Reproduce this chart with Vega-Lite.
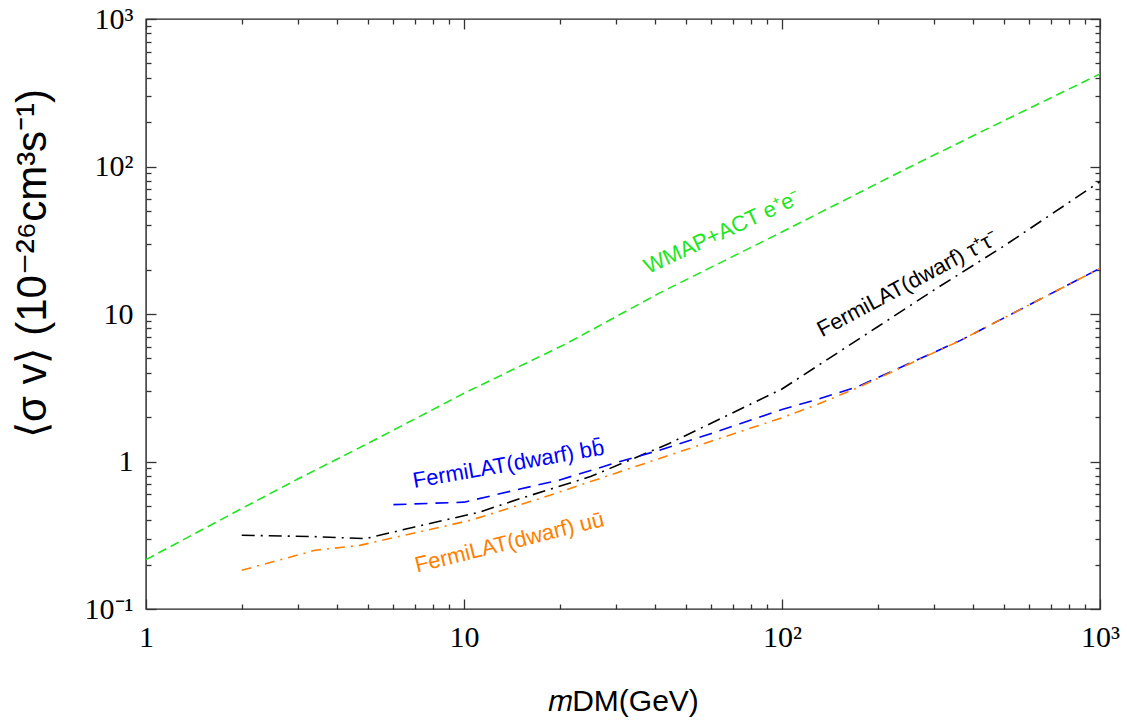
{
  "$schema": "https://vega.github.io/schema/vega-lite/v6.json",
  "width": 954,
  "height": 590,
  "autosize": {"type": "none"},
  "padding": {"left": 146, "top": 19, "right": 27, "bottom": 113},
  "background": "white",
  "config": {
    "view": {"stroke": "#222222", "strokeWidth": 1.4},
    "axis": {
      "grid": false,
      "domain": false,
      "ticks": true,
      "tickColor": "#333333",
      "tickWidth": 1.3,
      "labelFont": "Liberation Serif",
      "labelFontSize": 30,
      "labelColor": "black",
      "labelFlush": false,
      "labelOverlap": false,
      "labelBound": false,
      "titleFont": "Liberation Sans",
      "titleFontWeight": "normal",
      "titleColor": "black",
      "zindex": 1
    }
  },
  "datasets": {
    "curves": [
      {"series": "WMAP", "m": 1, "sv": 0.216},
      {"series": "WMAP", "m": 2, "sv": 0.48},
      {"series": "WMAP", "m": 3, "sv": 0.76},
      {"series": "WMAP", "m": 5, "sv": 1.33},
      {"series": "WMAP", "m": 10, "sv": 2.9},
      {"series": "WMAP", "m": 21, "sv": 6.3},
      {"series": "WMAP", "m": 41, "sv": 13.8},
      {"series": "WMAP", "m": 100, "sv": 36},
      {"series": "WMAP", "m": 247, "sv": 97},
      {"series": "WMAP", "m": 500, "sv": 205},
      {"series": "WMAP", "m": 1000, "sv": 424},
      {"series": "tau", "m": 2, "sv": 0.316},
      {"series": "tau", "m": 3.3, "sv": 0.31},
      {"series": "tau", "m": 4.9, "sv": 0.30},
      {"series": "tau", "m": 7, "sv": 0.36},
      {"series": "tau", "m": 11.2, "sv": 0.454},
      {"series": "tau", "m": 15, "sv": 0.56},
      {"series": "tau", "m": 25, "sv": 0.79},
      {"series": "tau", "m": 44, "sv": 1.32},
      {"series": "tau", "m": 100, "sv": 3.1},
      {"series": "tau", "m": 200, "sv": 8.2},
      {"series": "tau", "m": 300, "sv": 14.5},
      {"series": "tau", "m": 500, "sv": 29},
      {"series": "tau", "m": 1000, "sv": 79},
      {"series": "bb", "m": 6, "sv": 0.51},
      {"series": "bb", "m": 10, "sv": 0.53},
      {"series": "bb", "m": 15, "sv": 0.65},
      {"series": "bb", "m": 20, "sv": 0.75},
      {"series": "bb", "m": 30, "sv": 0.98},
      {"series": "bb", "m": 41, "sv": 1.19},
      {"series": "bb", "m": 60, "sv": 1.55},
      {"series": "bb", "m": 100, "sv": 2.25},
      {"series": "bb", "m": 130, "sv": 2.65},
      {"series": "bb", "m": 172, "sv": 3.2},
      {"series": "bb", "m": 363, "sv": 6.6},
      {"series": "bb", "m": 1000, "sv": 20.4},
      {"series": "uu", "m": 2, "sv": 0.183},
      {"series": "uu", "m": 3.4, "sv": 0.25},
      {"series": "uu", "m": 4.7, "sv": 0.27},
      {"series": "uu", "m": 10.5, "sv": 0.40},
      {"series": "uu", "m": 17.3, "sv": 0.56},
      {"series": "uu", "m": 52.6, "sv": 1.25},
      {"series": "uu", "m": 100, "sv": 1.98},
      {"series": "uu", "m": 130, "sv": 2.45},
      {"series": "uu", "m": 172, "sv": 3.15},
      {"series": "uu", "m": 363, "sv": 6.6},
      {"series": "uu", "m": 1000, "sv": 20.4}
    ],
    "labels": [
      {"series": "WMAP", "label": "WMAP+ACT e⁺e⁻", "m": 64.8, "sv": 35.9},
      {"series": "tau", "label": "FermiLAT(dwarf) τ⁺τ⁻", "m": 248, "sv": 16.0},
      {"series": "bb", "label": "FermiLAT(dwarf) bb̄", "m": 13.8, "sv": 0.957},
      {"series": "uu", "label": "FermiLAT(dwarf) uū", "m": 13.9, "sv": 0.283}
    ]
  },
  "layer": [
    {
      "data": {"name": "curves"},
      "mark": {"type": "line", "strokeWidth": 1.6, "clip": true},
      "encoding": {
        "x": {
          "field": "m", "type": "quantitative",
          "scale": {"type": "log", "domain": [1, 1000], "nice": false},
          "axis": {
            "orient": "bottom",
            "offset": -10,
            "values": [1, 10, 100, 1000],
            "labelExpr": "datum.value == 1 ? '1' : datum.value == 10 ? '10' : datum.value == 100 ? '10²' : '10³'",
            "tickSize": 10,
            "labelPadding": 13,
            "title": "𝑚DM(GeV)",
            "titleFontSize": 30,
            "titlePadding": 34
          }
        },
        "y": {
          "field": "sv", "type": "quantitative",
          "scale": {"type": "log", "domain": [0.1, 1000], "nice": false},
          "axis": {
            "orient": "left",
            "offset": -10,
            "values": [0.1, 1, 10, 100, 1000],
            "labelExpr": "datum.value == 0.1 ? '10⁻¹' : datum.value == 1 ? '1' : datum.value == 10 ? '10' : datum.value == 100 ? '10²' : '10³'",
            "tickSize": 10,
            "labelPadding": 13,
            "title": "⟨σ v⟩ (10⁻²⁶cm³s⁻¹)",
            "titleFontSize": 42,
            "titlePadding": 30,
            "titleY": 244
          }
        },
        "color": {
          "field": "series", "type": "nominal",
          "scale": {"domain": ["WMAP", "tau", "bb", "uu"], "range": ["#1ee61e", "#000000", "#0000ff", "#ff8000"]},
          "legend": null
        },
        "strokeDash": {
          "field": "series", "type": "nominal",
          "scale": {"domain": ["WMAP", "tau", "bb", "uu"], "range": [[9, 5], [13, 6, 2, 6], [13, 8], [10, 6, 2, 6]]},
          "legend": null
        }
      }
    },
    {
      "data": {"name": "labels"},
      "transform": [{"filter": "datum.series == 'WMAP'"}],
      "mark": {"type": "text", "angle": 335, "font": "Liberation Sans", "fontSize": 22, "color": "#1ee61e", "align": "center", "baseline": "middle"},
      "encoding": {
        "x": {"field": "m", "type": "quantitative", "axis": {"orient": "top", "offset": -10, "values": [1, 10, 100, 1000], "labels": false, "title": null, "tickSize": 10}},
        "y": {"field": "sv", "type": "quantitative", "axis": {"orient": "right", "offset": -10, "values": [0.1, 1, 10, 100, 1000], "labels": false, "title": null, "tickSize": 10}},
        "text": {"field": "label"}
      }
    },
    {
      "data": {"name": "labels"},
      "transform": [{"filter": "datum.series == 'tau'"}],
      "mark": {"type": "text", "angle": 332, "font": "Liberation Sans", "fontSize": 22, "color": "#000000", "align": "center", "baseline": "middle"},
      "encoding": {
        "x": {"field": "m", "type": "quantitative", "axis": {"orient": "bottom", "offset": -5, "values": [2,3,4,5,6,7,8,9,20,30,40,50,60,70,80,90,200,300,400,500,600,700,800,900], "labels": false, "title": null, "tickSize": 5}},
        "y": {"field": "sv", "type": "quantitative", "axis": {"orient": "left", "offset": -5, "values": [0.2,0.3,0.4,0.5,0.6,0.7,0.8,0.9,2,3,4,5,6,7,8,9,20,30,40,50,60,70,80,90,200,300,400,500,600,700,800,900], "labels": false, "title": null, "tickSize": 5}},
        "text": {"field": "label"}
      }
    },
    {
      "data": {"name": "labels"},
      "transform": [{"filter": "datum.series == 'bb'"}],
      "mark": {"type": "text", "angle": 350, "font": "Liberation Sans", "fontSize": 22, "color": "#0000ff", "align": "center", "baseline": "middle"},
      "encoding": {
        "x": {"field": "m", "type": "quantitative", "axis": {"orient": "top", "offset": -5, "values": [2,3,4,5,6,7,8,9,20,30,40,50,60,70,80,90,200,300,400,500,600,700,800,900], "labels": false, "title": null, "tickSize": 5}},
        "y": {"field": "sv", "type": "quantitative", "axis": {"orient": "right", "offset": -5, "values": [0.2,0.3,0.4,0.5,0.6,0.7,0.8,0.9,2,3,4,5,6,7,8,9,20,30,40,50,60,70,80,90,200,300,400,500,600,700,800,900], "labels": false, "title": null, "tickSize": 5}},
        "text": {"field": "label"}
      }
    },
    {
      "data": {"name": "labels"},
      "transform": [{"filter": "datum.series == 'uu'"}],
      "mark": {"type": "text", "angle": 346, "font": "Liberation Sans", "fontSize": 22, "color": "#ff8000", "align": "center", "baseline": "middle"},
      "encoding": {
        "x": {"field": "m", "type": "quantitative", "axis": null},
        "y": {"field": "sv", "type": "quantitative", "axis": null},
        "text": {"field": "label"}
      }
    }
  ],
  "resolve": {"axis": {"x": "independent", "y": "independent"}}
}
